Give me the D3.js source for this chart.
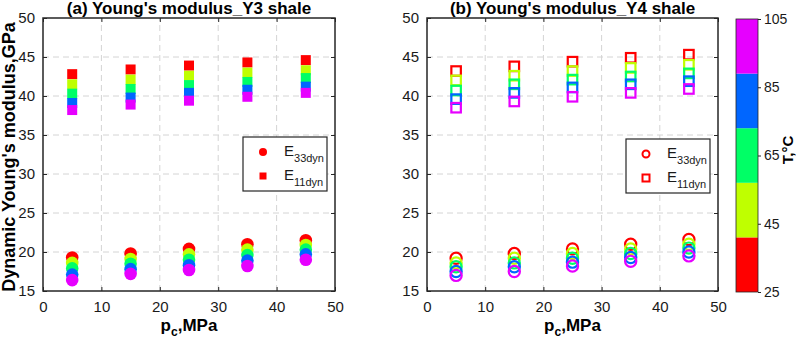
<!DOCTYPE html>
<html>
<head>
<meta charset="utf-8">
<script src="https://cdn.jsdelivr.net/npm/d3@7"></script>
<style>
  body { margin: 0; background: #fff; }
  svg { font-family: "Liberation Sans", Arial, sans-serif; }
  .tick text { font-size: 15px; fill: #1a1a1a; }
  .tick line { stroke: #262626; }
</style>
</head>
<body>
<svg id="chart" width="796" height="340"></svg>
<script>
// confining pressure (MPa) and temperature steps (deg C)
var pressures = [5, 15, 25, 35, 45];
var temps = [25, 45, 65, 85, 105];
var xTicks = [0, 10, 20, 30, 40, 50];
var yTicks = [15, 20, 25, 30, 35, 40, 45, 50];
var cbTicks = [25, 45, 65, 85, 105];

// Y3 shale, one row per temperature, one value per pressure
var y3E33 = [
  [19.3, 19.8, 20.4, 21.0, 21.5],
  [18.6, 19.1, 19.7, 20.3, 20.9],
  [17.9, 18.5, 19.0, 19.6, 20.3],
  [17.1, 17.8, 18.3, 18.9, 19.7],
  [16.4, 17.2, 17.7, 18.2, 19.0]
];
var y3E11 = [
  [42.8, 43.4, 43.9, 44.3, 44.6],
  [41.5, 42.1, 42.6, 43.0, 43.3],
  [40.3, 40.9, 41.4, 41.8, 42.3],
  [39.1, 39.8, 40.4, 40.8, 41.2],
  [38.2, 38.9, 39.4, 39.9, 40.4]
];
// Y4 shale
var y4E33 = [
  [19.2, 19.8, 20.4, 21.0, 21.6],
  [18.6, 19.2, 19.8, 20.4, 21.0],
  [18.1, 18.6, 19.2, 19.8, 20.5],
  [17.5, 18.1, 18.7, 19.3, 20.0],
  [17.0, 17.5, 18.2, 18.8, 19.5]
];
var y4E11 = [
  [43.2, 43.8, 44.4, 44.9, 45.3],
  [42.0, 42.6, 43.2, 43.6, 44.0],
  [40.7, 41.5, 42.1, 42.5, 42.9],
  [39.6, 40.4, 41.1, 41.5, 41.9],
  [38.5, 39.3, 39.9, 40.4, 40.9]
];

var hsv5 = ["#ff0000", "#bfff00", "#00ff66", "#0066ff", "#e600ff"];
var color = d3.scaleQuantize().domain([25, 105]).range(hsv5);

var svg = d3.select("#chart");

function panel(x0, x1, title, e33, e11, filled) {
  var x = d3.scaleLinear().domain([0, 50]).range([x0, x1]);
  var y = d3.scaleLinear().domain([15, 50]).range([291, 18]);
  var g = svg.append("g");

  // dashed grid
  g.selectAll(".gx").data(xTicks.slice(1, -1)).enter().append("line")
    .attr("x1", function(d) { return x(d); }).attr("x2", function(d) { return x(d); })
    .attr("y1", y(15)).attr("y2", y(50))
    .attr("stroke", "#d4d4d4").attr("stroke-dasharray", "6,4");
  g.selectAll(".gy").data(yTicks.slice(1, -1)).enter().append("line")
    .attr("x1", x(0)).attr("x2", x(50))
    .attr("y1", function(d) { return y(d); }).attr("y2", function(d) { return y(d); })
    .attr("stroke", "#d4d4d4").attr("stroke-dasharray", "6,4");

  // axes, ticks pointing inward on all sides
  var ax = g.append("g").attr("transform", "translate(0," + y(15) + ")")
    .call(d3.axisBottom(x).tickValues(xTicks).tickSizeInner(-4).tickSizeOuter(0).tickPadding(10));
  var ay = g.append("g").attr("transform", "translate(" + x(0) + ",0)")
    .call(d3.axisLeft(y).tickValues(yTicks).tickSizeInner(-4).tickSizeOuter(0).tickPadding(8));
  g.append("g").attr("transform", "translate(0," + y(50) + ")")
    .call(d3.axisTop(x).tickValues(xTicks).tickSizeInner(-4).tickSizeOuter(0).tickFormat(""));
  g.append("g").attr("transform", "translate(" + x(50) + ",0)")
    .call(d3.axisRight(y).tickValues(yTicks).tickSizeInner(-4).tickSizeOuter(0).tickFormat(""));
  g.selectAll(".domain").remove();
  ax.selectAll("text").attr("dy", "0.71em");

  g.append("rect")
    .attr("x", x(0)).attr("y", y(50))
    .attr("width", x(50) - x(0)).attr("height", y(15) - y(50))
    .attr("fill", "none").attr("stroke", "#262626").attr("stroke-width", 1.5);

  // title
  g.append("text")
    .attr("x", (x0 + x1) / 2).attr("y", 14)
    .attr("text-anchor", "middle")
    .attr("font-size", "17px").attr("font-weight", "bold")
    .text(title);

  // x label
  var xl = g.append("text")
    .attr("x", (x0 + x1) / 2).attr("y", 331)
    .attr("text-anchor", "middle")
    .attr("font-size", "17px").attr("font-weight", "bold");
  xl.append("tspan").text("p");
  xl.append("tspan").attr("font-size", "12px").attr("dy", 5).text("c");
  xl.append("tspan").attr("dy", -5).text(",MPa");

  // markers: red first so the hotter ones sit on top
  temps.forEach(function(t, i) {
    var c = color(t);
    g.selectAll(".c" + i).data(e33[i]).enter().append("circle")
      .attr("cx", function(d, j) { return x(pressures[j]); })
      .attr("cy", function(d) { return y(d); })
      .attr("r", filled ? 6.3 : 5.6)
      .attr("fill", filled ? c : "none")
      .attr("stroke", filled ? "none" : c)
      .attr("stroke-width", 2.2);
  });
  temps.forEach(function(t, i) {
    var c = color(t);
    var s = filled ? 10 : 9.5;
    g.selectAll(".s" + i).data(e11[i]).enter().append("rect")
      .attr("x", function(d, j) { return x(pressures[j]) - s / 2; })
      .attr("y", function(d) { return y(d) - s / 2; })
      .attr("width", s).attr("height", s)
      .attr("fill", filled ? c : "none")
      .attr("stroke", filled ? "none" : c)
      .attr("stroke-width", 2.2);
  });
  return g;
}

function legend(g, bx, by, filled) {
  g.append("rect")
    .attr("x", bx).attr("y", by).attr("width", 84).attr("height", 54)
    .attr("fill", "#fff").attr("stroke", "#262626").attr("stroke-width", 1.2);
  var mx = bx + 20;
  g.append("circle").attr("cx", mx).attr("cy", by + 15)
    .attr("r", filled ? 4 : 3.5)
    .attr("fill", filled ? "#ff0000" : "none")
    .attr("stroke", filled ? "none" : "#ff0000").attr("stroke-width", 2);
  g.append("rect").attr("x", mx - 3.5).attr("y", by + 39 - 3.5).attr("width", 7).attr("height", 7)
    .attr("fill", filled ? "#ff0000" : "none")
    .attr("stroke", filled ? "none" : "#ff0000").attr("stroke-width", 2);
  [["E", "33dyn", 19], ["E", "11dyn", 43]].forEach(function(l) {
    var tx = g.append("text").attr("x", bx + 41).attr("y", by + l[2])
      .attr("font-size", "15px").attr("fill", "#1a1a1a");
    tx.append("tspan").text(l[0]);
    tx.append("tspan").attr("font-size", "11px").attr("dy", 6).text(l[1]);
  });
}

var gA = panel(43, 335, "(a) Young's modulus_Y3 shale", y3E33, y3E11, true);
legend(gA, 243, 137, true);
var gB = panel(427, 718, "(b) Young's modulus_Y4 shale", y4E33, y4E11, false);
legend(gB, 626, 139, false);

// y label
svg.append("text")
  .attr("transform", "translate(15,157) rotate(-90)")
  .attr("text-anchor", "middle")
  .attr("font-size", "18px").attr("font-weight", "bold")
  .text("Dynamic Young's modulus,GPa");

// colorbar
var cy = d3.scaleLinear().domain([25, 105]).range([292, 19]);
var cb = svg.append("g");
cb.selectAll("rect.bin").data(hsv5).enter().append("rect")
  .attr("x", 736).attr("width", 22)
  .attr("y", function(d) { return cy(color.invertExtent(d)[1]); })
  .attr("height", function(d) { return cy(color.invertExtent(d)[0]) - cy(color.invertExtent(d)[1]); })
  .attr("fill", function(d) { return d; });
cb.append("rect").attr("x", 736).attr("y", 19).attr("width", 22).attr("height", 273)
  .attr("fill", "none").attr("stroke", "#262626").attr("stroke-width", 0.8);
cb.append("g").attr("transform", "translate(758,0)")
  .call(d3.axisRight(cy).tickValues(cbTicks).tickSizeInner(3).tickSizeOuter(0).tickPadding(3))
  .call(function(a) { a.select(".domain").remove(); })
  .selectAll("text").style("font-size", "14px");
svg.append("text")
  .attr("transform", "translate(793,150) rotate(-90)")
  .attr("text-anchor", "middle")
  .attr("font-size", "15px").attr("font-weight", "bold")
  .text("T,°C");
</script>
</body>
</html>
